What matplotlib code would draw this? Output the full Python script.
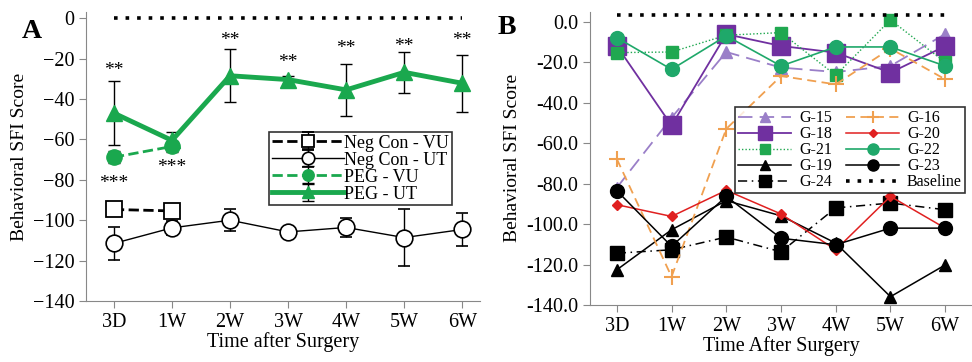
import matplotlib
matplotlib.use("Agg")
import matplotlib.pyplot as plt

plt.rcParams['font.family'] = ['Liberation Serif', 'DejaVu Serif']

times = ["3D", "1W", "2W", "3W", "4W", "5W", "6W"]

# panel A
negcon_vu = [-94.7, -95.4]
negcon_vu_err = [3, 3]
negcon_ut = [-111.5, -103.8, -100.0, -105.8, -103.6, -108.6, -104.6]
negcon_ut_err = [8, 3.5, 5.5, 1.5, 4.5, 14, 8]
peg_vu = [-68.8, -63.5]
peg_vu_err = [3, 2.5]
peg_ut = [-47.0, -60.5, -28.5, -30.4, -35.5, -26.8, -32.2]
peg_ut_err = [16, 4, 13, 2, 13, 10, 14]
stars_txt = ["**", "***", "**", "**", "**", "**", "**"]
stars_y = [-26, -74, -11, -22, -15, -14, -11]
stars_low_y = [-82, None, None, None, None, None, None]

# panel B
g15 = [-82, -47.4, -14.9, -22.6, -24.8, -21.8, -6]
g16 = [-67.8, -126, -52.9, -26.8, -30.9, -13.2, -28.4]
g18 = [-11.9, -51.2, -6.1, -11.9, -15.2, -25.1, -12]
g20 = [-90.4, -96.2, -83.3, -95, -112.7, -86.3, -102]
g21 = [-15.2, -14.9, -6.6, -5.3, -26.4, 1.0, -20]
g22 = [-7.8, -23.5, -6.9, -21.8, -12.4, -12.4, -21.8]
g19 = [-122.6, -102.8, -88.4, -95.9, -109.4, -135.9, -120.2]
g23 = [-83.5, -111, -86.3, -107, -110.2, -102, -102]
g24 = [-114.4, -112.7, -106.4, -113.7, -92, -89.6, -92.9]
baseline_b = 3.3

GREEN = "#1aa84e"
x = list(range(len(times)))

fig = plt.figure(figsize=(9.72, 3.62), dpi=100)
axA = fig.add_axes([0.0885, 0.1685, 0.405, 0.798])
axB = fig.add_axes([0.607, 0.1575, 0.393, 0.81])

for ax in (axA, axB):
    for s in ("top", "right"):
        ax.spines[s].set_visible(False)
    for s in ("left", "bottom"):
        ax.spines[s].set_color("#888888")
    ax.tick_params(axis="both", colors="#888888", labelcolor="black",
                   labelsize=14.5, length=5, direction="out")
    ax.set_xticks(x)
    ax.set_xticklabels(times)

# ---- A
axA.plot(x, [0] * len(x), color="black", linestyle=(0, (1, 2.2)), lw=2.6)
axA.errorbar(x[:2], negcon_vu, yerr=negcon_vu_err, color="black", ls="--", lw=2,
             marker="s", ms=11, mfc="white", mec="black", mew=1.3, capsize=4,
             elinewidth=1, label="Neg Con - VU")
axA.errorbar(x, negcon_ut, yerr=negcon_ut_err, color="black", ls="-", lw=1,
             marker="o", ms=12, mfc="white", mec="black", mew=1.2, capsize=4,
             elinewidth=1, label="Neg Con - UT")
axA.errorbar(x[:2], peg_vu, yerr=peg_vu_err, color=GREEN, ls="--", lw=2,
             marker="o", ms=11, mfc=GREEN, mec=GREEN, capsize=4, ecolor="black",
             elinewidth=1, label="PEG - VU")
axA.errorbar(x, peg_ut, yerr=peg_ut_err, color=GREEN, ls="-", lw=3.5,
             marker="^", ms=11, mfc=GREEN, mec=GREEN, capsize=4, ecolor="black",
             elinewidth=1, label="PEG - UT")
for i, (t, yy) in enumerate(zip(stars_txt, stars_y)):
    axA.text(x[i], yy, t, ha="center", va="center", fontsize=14)
axA.text(x[0], stars_low_y[0], "***", ha="center", va="center", fontsize=14)
axA.set_xlim(-0.48, 6.3)
axA.set_ylim(-140, 3)
axA.set_yticks(range(-140, 1, 20))
axA.set_ylabel("Behavioral SFI Score", fontsize=14, labelpad=3)
axA.set_xlabel("Time after Surgery", fontsize=14.5, labelpad=0)
hA, lA = axA.get_legend_handles_labels()
legA = axA.legend(hA, lA, loc="upper left", bbox_to_anchor=(0.465, 0.585),
                  fontsize=13, frameon=True, fancybox=False, edgecolor="black",
                  borderpad=0.15, labelspacing=0.0, handlelength=4.0,
                  handletextpad=0.0, borderaxespad=0, markerscale=0.75)
legA.get_frame().set_linewidth(1.2)
fig.text(0.022, 0.895, "A", fontsize=20, fontweight="bold")

# ---- B
specs = [
    (g15, "G-15", dict(color="#9a7fc8", ls=(0, (8, 4)), lw=1.3, marker="^", ms=9)),
    (g18, "G-18", dict(color="#7030a0", ls="-", lw=1.3, marker="s", ms=13)),
    (g21, "G-21", dict(color="#20a850", ls=(0, (1, 1.5)), lw=1, marker="s", ms=9)),
    (g19, "G-19", dict(color="black", ls="-", lw=1.1, marker="^", ms=9)),
    (g24, "G-24", dict(color="black", ls=(0, (6, 3, 1, 3)), lw=1.1, marker="s", ms=10)),
    (g16, "G-16", dict(color="#f0a050", ls=(0, (5, 3)), lw=1.3, marker="+", ms=11, mew=1.5)),
    (g20, "G-20", dict(color="#e02020", ls="-", lw=1.1, marker="D", ms=5)),
    (g22, "G-22", dict(color="#1fa86a", ls="-", lw=1.2, marker="o", ms=10)),
    (g23, "G-23", dict(color="black", ls="-", lw=1.1, marker="o", ms=10)),
]
handles = []
for vals, name, kw in specs:
    ln, = axB.plot(x, vals, label=name, **kw)
    handles.append(ln)
bl, = axB.plot(x, [baseline_b] * len(x), color="black", ls=(0, (1, 2.2)),
               lw=2.6, label="Baseline")
handles.append(bl)
axB.set_xlim(-0.49, 6.49)
axB.set_ylim(-140, 5)
axB.set_yticks(range(-140, 1, 20))
axB.set_yticklabels([f"{v:.1f}" for v in range(-140, 1, 20)])
axB.set_ylabel("Behavioral SFI Score", fontsize=14, labelpad=4)
axB.set_xlabel("Time After Surgery", fontsize=14.5, labelpad=0)
legB = axB.legend(handles, [h.get_label() for h in handles], ncol=2,
                  loc="upper left", bbox_to_anchor=(0.38, 0.675),
                  fontsize=11.5, frameon=True, fancybox=False, edgecolor="black",
                  borderpad=0.2, labelspacing=0.0, handlelength=3.3,
                  handletextpad=0.5, columnspacing=0.9, borderaxespad=0,
                  markerscale=0.8)
legB.get_frame().set_linewidth(1.2)
fig.text(0.512, 0.905, "B", fontsize=20, fontweight="bold")

fig.savefig("out.png", dpi=100)
